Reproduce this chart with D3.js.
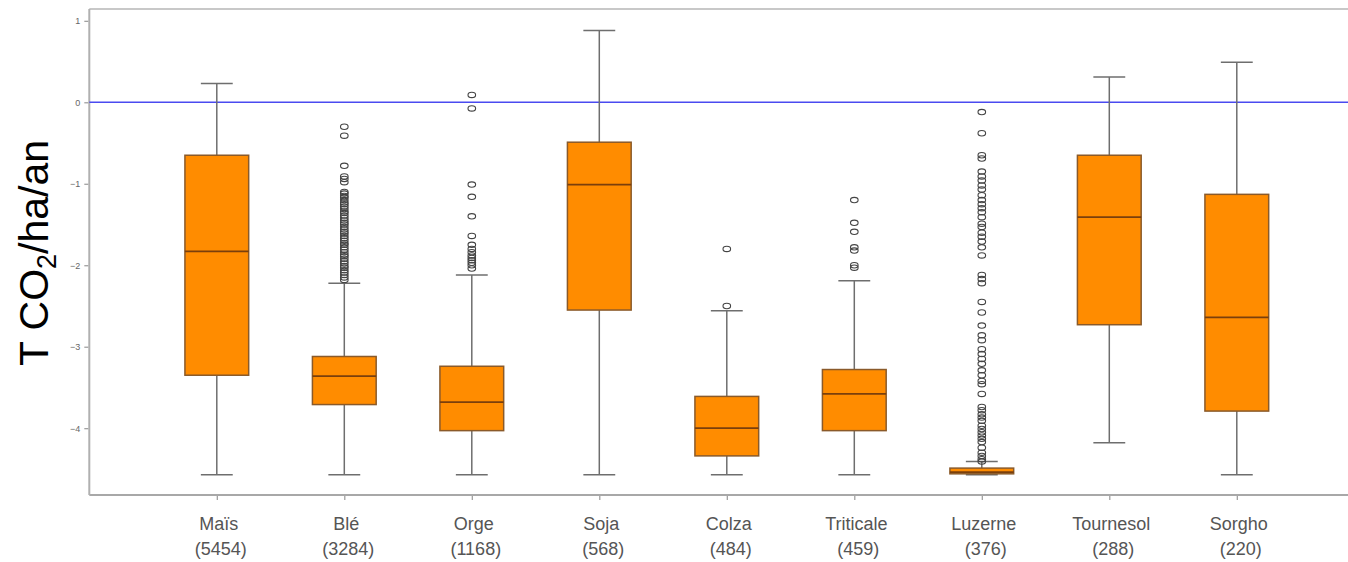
<!DOCTYPE html>
<html>
<head>
<meta charset="utf-8">
<script src="https://cdn.jsdelivr.net/npm/d3@7"></script>
<style>
  html, body { margin: 0; padding: 0; background: #fff; }
  svg { display: block; }
</style>
</head>
<body>
<svg id="chart" width="1348" height="562"></svg>
<script>
// Crops and number of plots per crop
const crops = ["Maïs", "Blé", "Orge", "Soja", "Colza", "Triticale", "Luzerne", "Tournesol", "Sorgho"];
const counts = [5454, 3284, 1168, 568, 484, 459, 376, 288, 220];

// Box statistics (T CO2/ha/an)
const whiskerHigh = [0.23, -2.22, -2.12, 0.88, -2.56, -2.19, -4.41, 0.31, 0.49];
const q3          = [-0.65, -3.12, -3.24, -0.49, -3.61, -3.28, -4.49, -0.65, -1.13];
const median      = [-1.83, -3.36, -3.68, -1.01, -4.00, -3.58, -4.54, -1.41, -2.64];
const q1          = [-3.35, -3.71, -4.03, -2.55, -4.34, -4.03, -4.56, -2.73, -3.79];
const whiskerLow  = [-4.57, -4.57, -4.57, -4.57, -4.57, -4.57, -4.57, -4.18, -4.57];

// Outliers per crop
const outliersMais = [];
const outliersBle = [-0.30, -0.41, -0.78, -0.91, -0.94, -0.98, -1.10, -1.12, -1.15, -1.17, -1.20, -1.23,
  -1.25, -1.28, -1.31, -1.34, -1.36, -1.39, -1.42, -1.45, -1.48, -1.50, -1.53, -1.56, -1.59, -1.61,
  -1.64, -1.67, -1.70, -1.73, -1.75, -1.78, -1.81, -1.84, -1.87, -1.89, -1.92, -1.95, -1.98, -2.01,
  -2.03, -2.06, -2.09, -2.12, -2.15, -2.18];
const outliersOrge = [0.09, -0.075, -1.01, -1.16, -1.40, -1.64, -1.75, -1.80, -1.84, -1.88, -1.91,
  -1.94, -1.97, -2.00, -2.04];
const outliersSoja = [];
const outliersColza = [-1.80, -2.50];
const outliersTriticale = [-1.20, -1.48, -1.59, -1.78, -1.82, -2.00, -2.03];
const outliersLuzerne = [-0.12, -0.38, -0.65, -0.69, -0.85, -0.91, -0.96, -1.02, -1.07, -1.14, -1.20,
  -1.25, -1.30, -1.35, -1.41, -1.49, -1.53, -1.60, -1.65, -1.71, -1.78, -1.88, -2.12, -2.17, -2.22,
  -2.45, -2.58, -2.74, -2.86, -2.92, -3.03, -3.09, -3.15, -3.21, -3.29, -3.35, -3.42, -3.46, -3.58,
  -3.74, -3.78, -3.83, -3.87, -3.91, -3.97, -4.01, -4.05, -4.09, -4.13, -4.17, -4.24, -4.30, -4.34,
  -4.38, -4.41];
const outliersTournesol = [];
const outliersSorgho = [];
const outliers = [outliersMais, outliersBle, outliersOrge, outliersSoja, outliersColza,
  outliersTriticale, outliersLuzerne, outliersTournesol, outliersSorgho];

const yTicks = [1, 0, -1, -2, -3, -4];
const yDomain = [-4.82, 1.145];

const svg = d3.select("#chart");
const W = 1348;
const plotLeft = 89.3, plotTop = 9, plotBottom = 495;

// Boxes sit at positions 1..9 on a 0..10 axis
const x = d3.scaleLinear().domain([0, 10]).range([plotLeft, plotLeft + 1275]);
const y = d3.scaleLinear().domain(yDomain).range([plotBottom, plotTop]);
const boxHalf = 0.25, capHalf = 0.125;

const data = crops.map((c, i) => ({
  crop: c, n: counts[i], pos: i + 1,
  lo: whiskerLow[i], q1: q1[i], med: median[i], q3: q3[i], hi: whiskerHigh[i], out: outliers[i]
}));

// Frame lines
svg.append("line").attr("x1", plotLeft).attr("x2", W).attr("y1", plotTop).attr("y2", plotTop)
  .attr("stroke", "#c8c8c8").attr("stroke-width", 2);
svg.append("line").attr("x1", plotLeft).attr("x2", W).attr("y1", plotBottom).attr("y2", plotBottom)
  .attr("stroke", "#a8a8a8").attr("stroke-width", 2);
svg.append("line").attr("x1", plotLeft).attr("x2", plotLeft).attr("y1", plotTop).attr("y2", plotBottom)
  .attr("stroke", "#b0b0b0").attr("stroke-width", 2);

// Y axis
const yAxis = d3.axisLeft(y).tickValues(yTicks).tickSize(4).tickPadding(4)
  .tickFormat(d => d < 0 ? "\u2212" + Math.abs(d) : String(d));
const gy = svg.append("g").attr("transform", `translate(${plotLeft - 1},0)`).call(yAxis);
gy.select(".domain").remove();
gy.selectAll(".tick line").attr("stroke", "#999").attr("stroke-width", 1.2);
gy.selectAll(".tick text").attr("fill", "#666").attr("font-size", 9)
  .attr("font-family", "Liberation Sans, Arial, sans-serif");

// X axis
const xAxis = d3.axisBottom(x).tickValues(data.map(d => d.pos)).tickSize(4).tickFormat("");
const gx = svg.append("g").attr("transform", `translate(0,${plotBottom + 1})`).call(xAxis);
gx.select(".domain").remove();
gx.selectAll(".tick line").attr("stroke", "#999").attr("stroke-width", 1.2);

const labels = svg.append("g").selectAll("text").data(data).join("text")
  .attr("text-anchor", "middle")
  .attr("font-family", "Liberation Sans, Arial, sans-serif")
  .attr("font-size", 18)
  .attr("fill", "#555");
labels.append("tspan").attr("x", d => x(d.pos) + 2).attr("y", 530).text(d => d.crop);
labels.append("tspan").attr("x", d => x(d.pos) + 4).attr("y", 555).text(d => `(${d.n})`);

// Zero reference line
svg.append("line").attr("x1", plotLeft).attr("x2", W).attr("y1", y(0)).attr("y2", y(0))
  .attr("stroke", "#4a4af0").attr("stroke-width", 1.6);

// Boxplots
const g = svg.append("g").selectAll("g").data(data).join("g");
const whiskerColor = "#6e6e6e";

g.append("line").attr("x1", d => x(d.pos)).attr("x2", d => x(d.pos))
  .attr("y1", d => y(d.hi)).attr("y2", d => y(d.q3))
  .attr("stroke", whiskerColor).attr("stroke-width", 1.5);
g.append("line").attr("x1", d => x(d.pos)).attr("x2", d => x(d.pos))
  .attr("y1", d => y(d.q1)).attr("y2", d => y(d.lo))
  .attr("stroke", whiskerColor).attr("stroke-width", 1.5);
g.append("line").attr("x1", d => x(d.pos - capHalf)).attr("x2", d => x(d.pos + capHalf))
  .attr("y1", d => y(d.hi)).attr("y2", d => y(d.hi))
  .attr("stroke", whiskerColor).attr("stroke-width", 1.5);
g.append("line").attr("x1", d => x(d.pos - capHalf)).attr("x2", d => x(d.pos + capHalf))
  .attr("y1", d => y(d.lo)).attr("y2", d => y(d.lo))
  .attr("stroke", whiskerColor).attr("stroke-width", 1.5);

g.append("rect")
  .attr("x", d => x(d.pos - boxHalf))
  .attr("width", d => x(d.pos + boxHalf) - x(d.pos - boxHalf))
  .attr("y", d => y(d.q3))
  .attr("height", d => Math.max(1, y(d.q1) - y(d.q3)))
  .attr("fill", "#ff8c00")
  .attr("stroke", "#8a5a2a").attr("stroke-width", 1.5);
g.append("line")
  .attr("x1", d => x(d.pos - boxHalf)).attr("x2", d => x(d.pos + boxHalf))
  .attr("y1", d => y(d.med)).attr("y2", d => y(d.med))
  .attr("stroke", "#7a3f0c").attr("stroke-width", 1.8);

// Outliers
g.selectAll("ellipse").data(d => d.out.map(v => ({ pos: d.pos, v }))).join("ellipse")
  .attr("cx", d => x(d.pos))
  .attr("cy", d => y(d.v))
  .attr("rx", 3.8).attr("ry", 2.7)
  .attr("fill", "none")
  .attr("stroke", "#444").attr("stroke-width", 1.1);

// Y axis title
svg.append("text")
  .attr("transform", "translate(48,253) rotate(-90)")
  .attr("text-anchor", "middle")
  .attr("font-family", "Liberation Sans, Arial, sans-serif")
  .attr("font-size", 41)
  .attr("fill", "#000")
  .call(t => {
    t.append("tspan").text("T CO");
    t.append("tspan").attr("font-size", 27).attr("dy", 8).text("2");
    t.append("tspan").attr("dy", -8).text("/ha/an");
  });
</script>
</body>
</html>
